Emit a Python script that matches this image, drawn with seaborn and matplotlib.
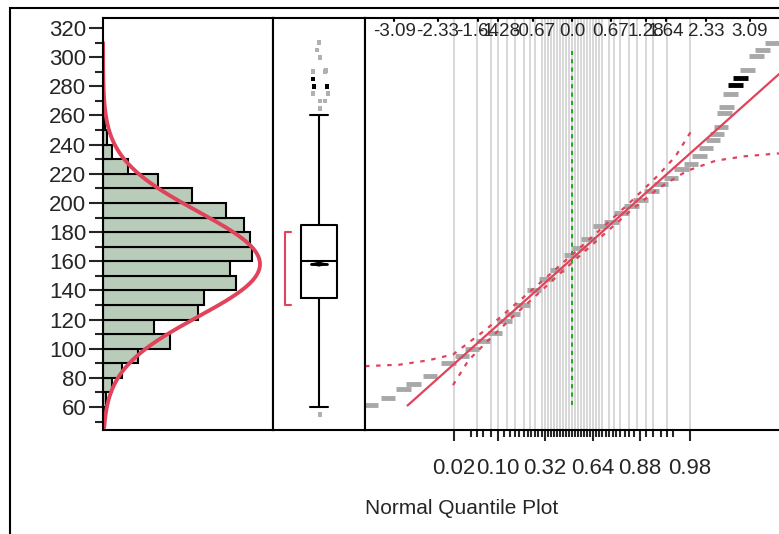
import numpy as np
import pandas as pd
import matplotlib
matplotlib.use("Agg")
import matplotlib.pyplot as plt
import seaborn as sns
from matplotlib.patches import Rectangle
from statistics import NormalDist

# histogram (bins of 10, from 50 to 260)
bin_left = [50, 60, 70, 80, 90, 100, 110, 120, 130, 140, 150, 160, 170, 180, 190, 200, 210, 220, 230, 240, 250]
counts = [1, 3, 9, 19, 35, 67, 51, 95, 101, 133, 127, 149, 147, 141, 123, 89, 55, 25, 9, 4, 2]
fit_mean, fit_sd, fit_peak = 158, 36, 157

# box plot summary
box_q1, box_med, box_q3 = 135, 160, 185
whisk_lo, whisk_hi = 60, 260
box_mean = 158
short_half = (130, 180)
outlier_x = [0, -2, 1, -6, 6, 7, -6, -5, -6, 8, -6, 9, 1, 6, 1, 1]
outlier_v = [310, 305, 300, 290, 290, 291, 285, 280, 275, 280, 275, 275, 270, 270, 265, 55]
outlier_dark = [0, 0, 0, 0, 0, 0, 1, 1, 0, 1, 0, 0, 0, 0, 0, 0]

# normal quantile plot points
qq_q = [-3.5, -3.2, -2.93, -2.76, -2.47, -2.15, -1.91, -1.74, -1.55, -1.34, -1.17, -1.03, -0.86,
        -0.66, -0.45, -0.26, -0.02, 0.12, 0.29, 0.5, 0.69, 0.86, 1.03, 1.19, 1.38, 1.55, 1.72,
        1.9, 2.07, 2.22, 2.33, 2.45, 2.52, 2.59, 2.65, 2.69, 2.76, 2.84, 2.93, 3.05, 3.21, 3.31, 3.48]
qq_v = [61, 66, 72, 76, 81, 90, 95, 100, 105, 111, 119, 124, 130, 140, 148, 154, 164, 169, 175,
        184, 187, 193, 198, 202, 208, 213, 217, 223, 227, 232, 238, 243, 247, 252, 262, 266, 275,
        281, 286, 291, 301, 305, 310]
qq_dark = [1 if v in (281, 286) else 0 for v in qq_v]
line_q = [-2.86, 3.6]
line_v = [61, 288.4]
up_q = [-3.6, -3.0, -2.5, -2.07, -1.5, -1.0, -0.5, 0.0, 0.5, 1.0, 1.5, 1.8, 2.07]
up_v = [88, 89, 92, 96, 113, 130, 147, 164.5, 182, 200, 219, 232, 249]
lo_q = [-2.07, -1.8, -1.5, -1.0, -0.5, 0.0, 0.5, 1.0, 1.5, 2.0, 2.5, 3.0, 3.6]
lo_v = [75, 92, 104, 123, 141, 159, 176.5, 194, 210, 222, 229, 232, 234]
top_ticks = [-3.09, -2.33, -1.64, -1.28, -0.67, 0.0, 0.67, 1.28, 1.64, 2.33, 3.09]
top_labels = ["-3.09", "-2.33", "-1.64", "-1.28", "-0.67", "0.0", "0.67", "1.28", "1.64", "2.33", "3.09"]
prob_labels = [0.02, 0.10, 0.32, 0.64, 0.88, 0.98]

sns.set_style("white")
plt.rcParams["font.family"] = ["Liberation Sans", "DejaVu Sans"]
red = "#e0435a"
ylim = (44.2, 326.9)

fig = plt.figure(figsize=(7.79, 5.34), dpi=100)
fig.patches.append(Rectangle((10 / 779, -0.1), 1.2, 1.1 - 8 / 534, transform=fig.transFigure,
                             fill=False, lw=1.5, ec="black"))
ax1 = fig.add_axes([103 / 779, 0.1948, 170 / 779, 0.7715])
ax2 = fig.add_axes([273 / 779, 0.1948, 92 / 779, 0.7715])
ax3 = fig.add_axes([365 / 779, 0.1948, 414 / 779, 0.7715])

# histogram
df = pd.DataFrame({"mid": np.array(bin_left) + 5, "n": counts})
sns.histplot(data=df, y="mid", weights="n", binwidth=10, binrange=(50, 260), color="#b9cbb9",
             alpha=1, edgecolor="black", linewidth=1.5, ax=ax1)
yy = np.linspace(46, 310, 300)
ax1.plot(fit_peak * np.exp(-0.5 * ((yy - fit_mean) / fit_sd) ** 2), yy, color=red, lw=2.8)
ax1.set_xlim(0, 170)
ax1.set_ylim(*ylim)
ax1.set_xticks([])
ax1.set_xlabel("")
ax1.set_ylabel("")
ax1.set_yticks(range(60, 321, 20))
ax1.set_yticks(range(50, 321, 10), minor=True)
ax1.tick_params(axis="y", which="both", left=True, direction="out", width=1.5, labelsize=16, pad=2)
ax1.tick_params(axis="y", which="major", length=10)
ax1.tick_params(axis="y", which="minor", length=6)

# box plot
stats = [dict(q1=box_q1, med=box_med, q3=box_q3, whislo=whisk_lo, whishi=whisk_hi, fliers=[])]
ax2.bxp(stats, positions=[0], widths=36, showfliers=False,
        boxprops=dict(lw=1.5), whiskerprops=dict(lw=1.5), capprops=dict(lw=1.5),
        medianprops=dict(color="black", lw=1.5))
ax2.fill([-8, 0, 8, 0], [box_mean, box_mean + 1.2, box_mean, box_mean - 1.2], color="black")
ax2.plot([-8, 8], [box_mean, box_mean], color="black", lw=2)
odf = pd.DataFrame({"x": outlier_x, "v": outlier_v, "dark": outlier_dark})
sns.scatterplot(data=odf, x="x", y="v", hue="dark", palette={0: "#b0b0b0", 1: "black"},
                marker="s", s=12, linewidth=0, legend=False, ax=ax2)
ax2.plot([-28, -34, -34, -28], [short_half[0], short_half[0], short_half[1], short_half[1]],
         color=red, lw=1.5)
ax2.set_xlim(-46, 46)
ax2.set_ylim(*ylim)
ax2.set_xticks([])
ax2.set_yticks([])
ax2.set_xlabel("")
ax2.set_ylabel("")

# normal quantile plot
nd = NormalDist()
grid_p = [0.02, 0.05, 0.08, 0.1, 0.13, 0.16, 0.2, 0.23, 0.26] + list(np.arange(0.3, 0.71, 0.02)) + \
    [0.74, 0.77, 0.8, 0.84, 0.87, 0.9, 0.92, 0.95, 0.98]
for p in grid_p:
    ax3.axvline(nd.inv_cdf(p), color="#d4d4d4", lw=1.3, zorder=0)
ax3.plot([0, 0], [61, 304], color="#22aa22", ls=(0, (2, 2)), lw=1.5)
qdf = pd.DataFrame({"q": qq_q, "v": qq_v, "dark": qq_dark})
sns.scatterplot(data=qdf, x="q", y="v", hue="dark", palette={0: "#a8a8a8", 1: "black"},
                marker="_", s=110, linewidth=3.5, legend=False, ax=ax3)
ax3.plot(line_q, line_v, color=red, lw=1.6)
ax3.plot(up_q, up_v, color=red, lw=1.6, ls=(0, (2, 3)))
ax3.plot(lo_q, lo_v, color=red, lw=1.6, ls=(0, (2, 3)))
ax3.set_xlim(-3.6, 3.6)
ax3.set_ylim(*ylim)
ax3.set_yticks([])
ax3.set_xlabel("")
ax3.set_ylabel("")
ax3.set_xticks([nd.inv_cdf(p) for p in prob_labels])
ax3.set_xticklabels([f"{p:.2f}" for p in prob_labels])
minor_p = [0.01 * k for k in range(2, 99, 2)] + [0.05, 0.95]
ax3.set_xticks([nd.inv_cdf(p) for p in minor_p], minor=True)
ax3.tick_params(axis="x", which="both", bottom=True, direction="out", width=1.5, labelsize=16, pad=12)
ax3.tick_params(axis="x", which="major", length=8)
ax3.tick_params(axis="x", which="minor", length=5)
for t, lab in zip(top_ticks, top_labels):
    ax3.plot([t, t], [ylim[1], ylim[1] - 2], color="black", lw=1.5)
    ax3.text(t, ylim[1] - 3.5, lab, ha="center", va="top", fontsize=13.5)
ax3.text(0.0, -0.19, "Normal Quantile Plot", transform=ax3.transAxes, fontsize=15,
         ha="left", va="center")
ax3.spines["right"].set_visible(False)

for a in (ax1, ax2, ax3):
    for s in a.spines.values():
        s.set_linewidth(1.5)
        s.set_color("black")

fig.savefig("out.png", dpi=100)
